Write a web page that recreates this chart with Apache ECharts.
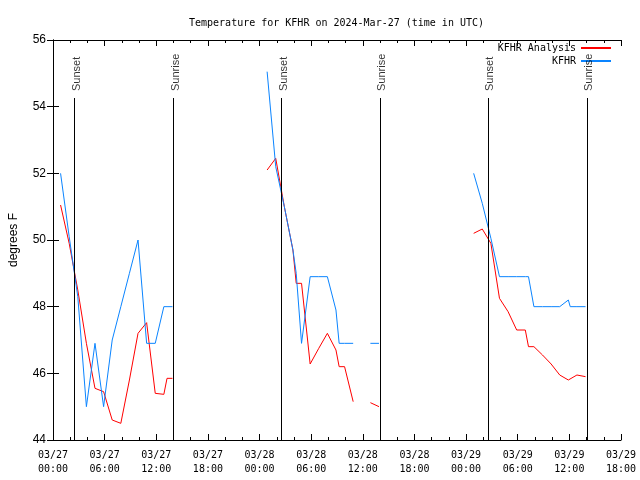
<!DOCTYPE html>
<html>
<head>
<meta charset="utf-8">
<script src="https://cdn.jsdelivr.net/npm/echarts@6/dist/echarts.min.js"></script>
<style>html,body{margin:0;padding:0;background:#fff}#c{width:640px;height:480px}</style>
</head>
<body>
<div id="c"></div>
<script>
// Hours since 2024-03-27 00:00 UTC (null = gap in data)
const hours = [0.88,1.88,2.88,3.88,4.88,5.88,6.88,7.88,8.88,9.88,10.88,11.88,12.88,13.25,13.88,
  null,
  24.88,25.88,26.88,27.88,28.26,28.88,29.88,30.88,31.88,32.88,33.25,33.88,34.88,
  null,
  36.88,37.88,
  null,
  48.88,49.88,50.88,51.88,52.88,53.88,54.88,55.25,55.88,56.88,57.88,58.88,59.88,60.1,60.88,61.88];
const kfhr = [52.0,50.1,48.3,45.0,46.9,45.0,47.0,48.0,49.0,50.0,46.9,46.9,48.0,48.0,48.0,
  null,
  55.05,52.2,51.0,49.7,49.0,46.9,48.9,48.9,48.9,47.9,46.9,46.9,46.9,
  null,
  46.9,46.9,
  null,
  52.0,51.1,50.05,48.9,48.9,48.9,48.9,48.9,48.0,48.0,48.0,48.0,48.2,48.0,48.0,48.0];
const analysis = [51.05,49.9,48.5,46.9,45.55,45.45,44.6,44.5,45.8,47.2,47.52,45.4,45.37,45.85,45.85,
  null,
  52.1,52.45,51.0,49.7,48.7,48.7,46.28,46.75,47.2,46.7,46.2,46.2,45.15,
  null,
  45.12,45.0,
  null,
  50.2,50.33,49.9,48.25,47.85,47.3,47.3,46.8,46.8,46.55,46.28,45.95,45.8,45.85,45.95,45.9];
const sunEvents = ['Sunset','Sunrise','Sunset','Sunrise','Sunset','Sunrise'];
const sunHours = [2.45,13.95,26.49,37.99,50.53,62.03];
const sunLineTop = 54.26;
const xTickHours = [0,6,12,18,24,30,36,42,48,54,60,66];

const mono = 'DejaVu Sans Mono';
const sans = 'Liberation Sans';

function fmtX(v){
  const day = 27 + Math.floor(v/24);
  const hh = v % 24;
  return '03/' + day + '\n' + (hh < 10 ? '0' : '') + hh + ':00';
}
function pairs(vals){
  return hours.map((h,i)=> h === null ? [null, null] : [h, vals[i]]);
}

const chart = echarts.init(document.getElementById('c'), null, {renderer:'canvas'});
const axisLine = {show:true, lineStyle:{color:'#000', width:1}};
const option = {
  animation:false,
  backgroundColor:'#fff',
  title:{
    text:'Temperature for KFHR on 2024-Mar-27 (time in UTC)',
    left:184, top:13,
    textStyle:{fontFamily:mono, fontSize:10, fontWeight:'normal', color:'#000'}
  },
  legend:[
    {data:['KFHR Analysis'], right:29, top:43, align:'right', icon:'rect', itemWidth:30, itemHeight:2,
      padding:0, textStyle:{fontFamily:mono, fontSize:10, color:'#000'}},
    {data:['KFHR'], right:29, top:56, align:'right', icon:'rect', itemWidth:30, itemHeight:2,
      padding:0, textStyle:{fontFamily:mono, fontSize:10, color:'#000'}}
  ],
  grid:{left:47, right:19, top:40, bottom:40, containLabel:false},
  xAxis:[
    {type:'value', min:0, max:66, interval:6, position:'bottom',
      axisLine:axisLine,
      axisTick:{show:true, inside:true, length:6, lineStyle:{color:'#000'}},
      minorTick:{show:true, splitNumber:3, length:3, lineStyle:{color:'#000'}},
      splitLine:{show:false},
      axisLabel:{formatter:fmtX, fontFamily:mono, fontSize:10, color:'#000', margin:8, lineHeight:14, showMinLabel:true, showMaxLabel:true}
    },
    {type:'value', min:0, max:66, interval:6, position:'top',
      axisLine:axisLine,
      axisTick:{show:true, inside:true, length:6, lineStyle:{color:'#000'}},
      minorTick:{show:true, splitNumber:3, length:3, lineStyle:{color:'#000'}},
      splitLine:{show:false}, axisLabel:{show:false}
    }
  ],
  yAxis:[
    {type:'value', min:44, max:56, interval:2, position:'left',
      name:'degrees F', nameLocation:'middle', nameGap:33, nameRotate:90,
      nameTextStyle:{fontFamily:sans, fontSize:12, color:'#000'},
      axisLine:axisLine,
      axisTick:{show:true, inside:true, length:6, lineStyle:{color:'#000'}},
      splitLine:{show:false},
      axisLabel:{fontFamily:sans, fontSize:12, color:'#000', margin:7}
    },
    {type:'value', min:44, max:56, interval:2, position:'right',
      axisLine:axisLine,
      axisTick:{show:true, inside:true, length:6, lineStyle:{color:'#000'}},
      splitLine:{show:false}, axisLabel:{show:false}
    }
  ],
  series:[
    {name:'KFHR Analysis', type:'line', data:pairs(analysis), symbol:'none', connectNulls:false,
      lineStyle:{color:'#ff0000', width:1}, itemStyle:{color:'#ff0000'}, z:3},
    {name:'KFHR', type:'line', data:pairs(kfhr), symbol:'none', connectNulls:false,
      lineStyle:{color:'#0a84ff', width:1}, itemStyle:{color:'#0a84ff'}, z:4},
    {name:'sun', type:'line', data:[], symbol:'none', silent:true,
      markLine:{silent:true, symbol:'none', animation:false,
        lineStyle:{color:'#000', width:1, type:'solid'},
        label:{show:false},
        data:sunHours.map(h=>[{coord:[h,44]},{coord:[h,sunLineTop]}])}},
    {name:'sunlabels', type:'scatter', symbolSize:0, silent:true, z:5,
      data:sunHours.map((h,i)=>({value:[h,sunLineTop], label:{formatter:sunEvents[i]}})),
      label:{show:true, rotate:90, position:[2.5,-7], align:'left', verticalAlign:'middle',
        fontFamily:sans, fontSize:11, color:'#000'}}
  ]
};
chart.setOption(option);
</script>
</body>
</html>
